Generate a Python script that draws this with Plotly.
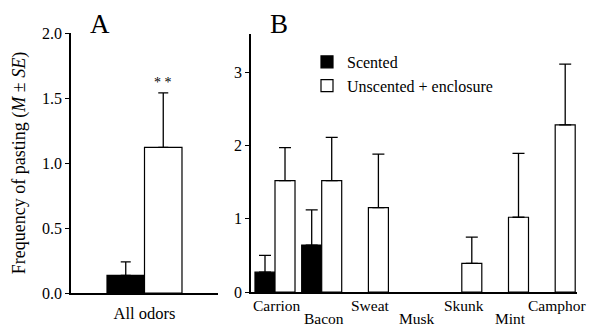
import plotly.graph_objects as go

# ---- data ----
all_label = ["All odors"]
all_scented = [0.136]
all_scented_se = [0.104]
all_unscented = [1.12]
all_unscented_se = [0.42]

categories = ["Carrion", "Bacon", "Sweat", "Musk", "Skunk", "Mint", "Camphor"]
scented = [0.27, 0.64, None, None, None, None, None]
scented_se = [0.23, 0.48, None, None, None, None, None]
unscented = [1.52, 1.52, 1.15, None, 0.39, 1.02, 2.28]
unscented_se = [0.45, 0.59, 0.73, None, 0.36, 0.87, 0.83]

FONT = "Liberation Serif"
W, H = 603, 328

def px_x(p):
    return p / W

def px_y(p):
    return (H - p) / H

fig = go.Figure()

line = dict(color="black", width=1.2)

# Panel A
fig.add_trace(go.Bar(
    x=[0], y=all_scented, name="Scented", showlegend=False,
    marker=dict(color="black", line=line),
    error_y=dict(type="data", symmetric=False, array=all_scented_se, arrayminus=[0],
                 color="black", thickness=1.3, width=5),
    xaxis="x", yaxis="y", offsetgroup="s"))
fig.add_trace(go.Bar(
    x=[0], y=all_unscented, name="Unscented + enclosure", showlegend=False,
    marker=dict(color="white", line=line),
    error_y=dict(type="data", symmetric=False, array=all_unscented_se, arrayminus=[0],
                 color="black", thickness=1.3, width=5),
    xaxis="x", yaxis="y", offsetgroup="u"))

# Panel B
xs = list(range(len(categories)))
fig.add_trace(go.Bar(
    x=xs, y=scented, name="Scented",
    marker=dict(color="black", line=line),
    error_y=dict(type="data", symmetric=False, array=scented_se,
                 arrayminus=[0] * len(xs), color="black", thickness=1.3, width=6),
    xaxis="x2", yaxis="y2", offsetgroup="s"))
fig.add_trace(go.Bar(
    x=xs, y=unscented, name="Unscented + enclosure",
    marker=dict(color="white", line=line),
    error_y=dict(type="data", symmetric=False, array=unscented_se,
                 arrayminus=[0] * len(xs), color="black", thickness=1.3, width=6),
    xaxis="x2", yaxis="y2", offsetgroup="u"))

axis_common = dict(showline=True, linecolor="black", linewidth=1.5, showgrid=False,
                   zeroline=False, automargin=False,
                   tickfont=dict(family=FONT, size=16, color="black"))

annotations = []
for i, c in enumerate(categories):
    annotations.append(dict(
        x=i, xref="x2", y=px_y(305 if i % 2 == 0 else 318.5), yref="paper",
        text=c, showarrow=False, xshift=2,
        font=dict(family=FONT, size=15.5, color="black"),
        xanchor="center", yanchor="middle"))

annotations += [
    dict(x=px_x(100), y=px_y(24), xref="paper", yref="paper", text="A",
         xanchor="center", yanchor="middle",
         showarrow=False, font=dict(family=FONT, size=27, color="black")),
    dict(x=px_x(279), y=px_y(24), xref="paper", yref="paper", text="B",
         xanchor="center", yanchor="middle",
         showarrow=False, font=dict(family=FONT, size=27, color="black")),
    dict(x=0.214, xref="x", y=all_unscented[0] + all_unscented_se[0], yref="y",
         text="* *", showarrow=False, xanchor="center", yanchor="bottom", yshift=1,
         font=dict(family=FONT, size=14, color="black")),
]

fig.update_layout(
    width=W, height=H,
    margin=dict(l=0, r=0, t=0, b=0, autoexpand=False),
    paper_bgcolor="white", plot_bgcolor="white",
    barmode="group", bargap=0.143, bargroupgap=0,
    font=dict(family=FONT, size=15, color="black"),
    xaxis=dict(domain=[px_x(71), px_x(218)], range=[-0.84, 0.84],
               tickvals=[0], ticktext=all_label, ticks="", ticklabelstandoff=4,
               anchor="y", tickfont=dict(family=FONT, size=16.5, color="black"),
               showline=True, linecolor="black", linewidth=1.5, showgrid=False,
               zeroline=False, automargin=False),
    yaxis=dict(domain=[px_y(293), px_y(33)], range=[0, 2.0],
               tickvals=[0, 0.5, 1.0, 1.5, 2.0],
               ticktext=["0.0", "0.5", "1.0", "1.5", "2.0"],
               ticks="outside", ticklen=4, tickcolor="black", anchor="x",
               title=dict(text="Frequency of pasting (<i>M</i> ± <i>SE</i>)",
                          font=dict(family=FONT, size=18, color="black"),
                          standoff=12),
               **axis_common),
    xaxis2=dict(domain=[px_x(251), px_x(577)], range=[-0.514, 6.467],
                showticklabels=False, ticks="", anchor="y2",
                showline=True, linecolor="black", linewidth=1.5, showgrid=False,
                zeroline=False, automargin=False),
    yaxis2=dict(domain=[px_y(292), px_y(34)], range=[0, 3.52],
                tickvals=[0, 1, 2, 3], ticks="outside", ticklen=4,
                tickcolor="black", anchor="x2", **axis_common),
    legend=dict(x=px_x(307), y=px_y(45), xanchor="left", yanchor="top",
                bgcolor="rgba(0,0,0,0)",
                font=dict(family=FONT, size=16, color="black")),
    annotations=annotations,
)

fig.write_html("out.html")
